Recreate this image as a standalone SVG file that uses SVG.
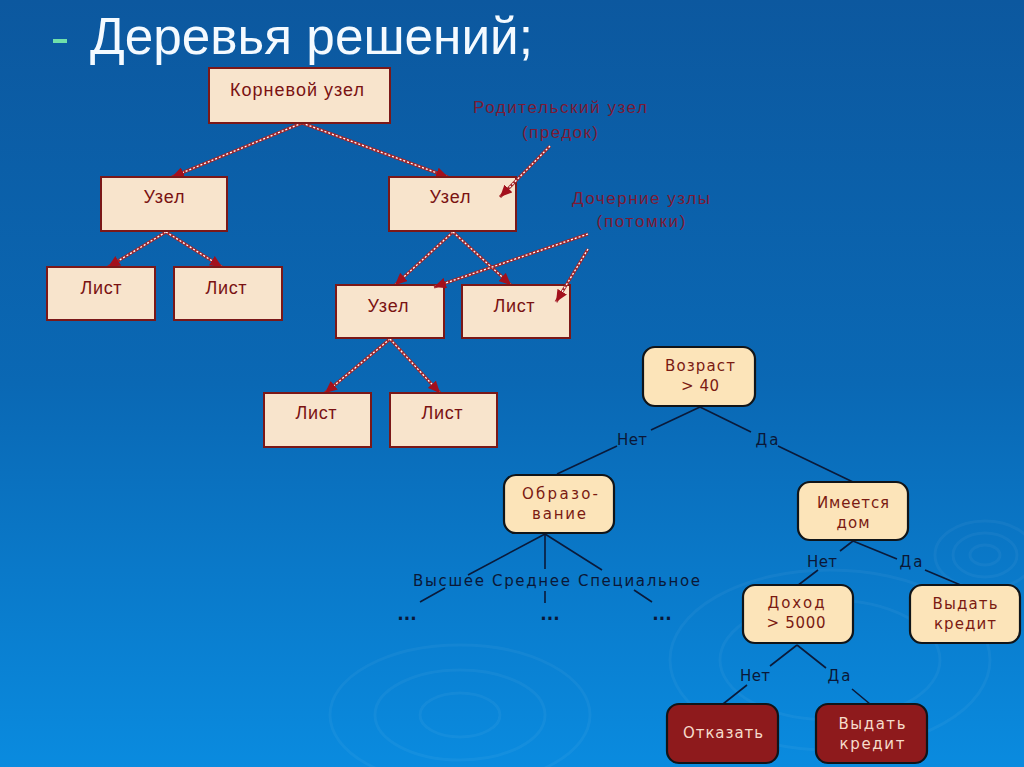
<svg xmlns="http://www.w3.org/2000/svg" width="1024" height="767" viewBox="0 0 1024 767">
<defs>
<linearGradient id="bg" x1="0" y1="0" x2="0" y2="1">
<stop offset="0" stop-color="#0c589f"/>
<stop offset="0.5" stop-color="#0a68b4"/>
<stop offset="1" stop-color="#0a8bdf"/>
</linearGradient>
<marker id="ah" markerUnits="userSpaceOnUse" markerWidth="13" markerHeight="11" refX="12" refY="5.5" orient="auto">
<path d="M0,0 L12,5.5 L0,11 z" fill="#a3101c"/>
</marker>
<style>
.tbox{fill:#f8e4cc;stroke:#7b1818;stroke-width:2}
.ttxt{font-family:"Liberation Sans",Arial,sans-serif;font-size:18px;fill:#7a1212;text-anchor:middle}
.ann{font-family:"Liberation Sans",Arial,sans-serif;font-size:17px;fill:#7c1a34;text-anchor:middle}
.dl{stroke:#a3262a;stroke-width:3;fill:none}
.dw{stroke:#ffffff;stroke-width:1.3;stroke-dasharray:2 2;fill:none;marker-end:url(#ah)}
.bbox{fill:#fce4b9;stroke:#101418;stroke-width:2.2}
.dbox{fill:#8e1a1c;stroke:#101418;stroke-width:2.2}
.btxt{font-family:"DejaVu Sans",Verdana,sans-serif;font-size:15px;fill:#7a1a12;text-anchor:middle}
.dtxt{font-family:"DejaVu Sans",Verdana,sans-serif;font-size:15px;fill:#f6dccb;text-anchor:middle}
.lbl{font-family:"DejaVu Sans",Verdana,sans-serif;font-size:15px;fill:#0a1838;text-anchor:middle}
.bl{stroke:#0a1a3a;stroke-width:1.6;fill:none}
.dots{font-family:"DejaVu Sans",Verdana,sans-serif;font-size:17px;font-weight:bold;fill:#0a1838;text-anchor:middle}
.rip{fill:none;stroke:#ffffff;stroke-opacity:0.045;stroke-width:3}
</style>
</defs>
<rect x="0" y="0" width="1024" height="767" fill="url(#bg)"/>
<g id="ripples">
<ellipse class="rip" cx="985" cy="555" rx="15" ry="10"/>
<ellipse class="rip" cx="985" cy="555" rx="32" ry="22"/>
<ellipse class="rip" cx="985" cy="555" rx="50" ry="34"/>
<ellipse class="rip" cx="460" cy="715" rx="40" ry="22"/>
<ellipse class="rip" cx="460" cy="715" rx="85" ry="45"/>
<ellipse class="rip" cx="460" cy="715" rx="130" ry="70"/>
<ellipse class="rip" cx="830" cy="660" rx="110" ry="60"/>
<ellipse class="rip" cx="830" cy="660" rx="160" ry="90"/>
</g>
<g id="title">
<line x1="53" y1="41" x2="67" y2="41" stroke="#70e0aa" stroke-width="4"/>
<text x="90" y="54" font-family="'Liberation Sans',Arial,sans-serif" font-size="52" fill="#f4faff" textLength="443" lengthAdjust="spacingAndGlyphs">Деревья решений;</text>
</g>
<g id="connectors">
<line class="dl" x1="302" y1="123" x2="172" y2="177"/><line class="dw" x1="302" y1="123" x2="172" y2="177"/>
<line class="dl" x1="302" y1="123" x2="448" y2="177"/><line class="dw" x1="302" y1="123" x2="448" y2="177"/>
<line class="dl" x1="166" y1="232" x2="108" y2="267"/><line class="dw" x1="166" y1="232" x2="108" y2="267"/>
<line class="dl" x1="166" y1="232" x2="222" y2="267"/><line class="dw" x1="166" y1="232" x2="222" y2="267"/>
<line class="dl" x1="453" y1="232" x2="395" y2="285"/><line class="dw" x1="453" y1="232" x2="395" y2="285"/>
<line class="dl" x1="453" y1="232" x2="511" y2="285"/><line class="dw" x1="453" y1="232" x2="511" y2="285"/>
<line class="dl" x1="390" y1="339" x2="325" y2="393"/><line class="dw" x1="390" y1="339" x2="325" y2="393"/>
<line class="dl" x1="390" y1="339" x2="440" y2="393"/><line class="dw" x1="390" y1="339" x2="440" y2="393"/>
<path class="bl" d="M700,407 L651,430 M617,446 L557,474"/>
<path class="bl" d="M700,407 L751,432 M778,446 L853,482"/>
<path class="bl" d="M545,534 L468,575 M445,588 L420,602"/>
<path class="bl" d="M545,534 L545,569 M545,591 L545,603"/>
<path class="bl" d="M545,534 L602,570 M634,590 L652,602"/>
<path class="bl" d="M853,541 L840,551 M818,570 L797,586"/>
<path class="bl" d="M853,541 L897,559 M925,570 L963,586"/>
<path class="bl" d="M797,645 L770,666 M747,685 L723,704"/>
<path class="bl" d="M797,645 L826,668 M852,689 L870,704"/>
<text class="lbl" x="632" y="445" textLength="30" lengthAdjust="spacing">Нет</text>
<text class="lbl" x="767" y="445" textLength="23" lengthAdjust="spacing">Да</text>
<text class="lbl" x="822" y="567" textLength="30" lengthAdjust="spacing">Нет</text>
<text class="lbl" x="911" y="567" textLength="23" lengthAdjust="spacing">Да</text>
<text class="lbl" x="755" y="681" textLength="30" lengthAdjust="spacing">Нет</text>
<text class="lbl" x="839" y="681" textLength="23" lengthAdjust="spacing">Да</text>
<text class="lbl" x="413" y="586" style="text-anchor:start" textLength="287" lengthAdjust="spacing">Высшее Среднее Специальное</text>
<text class="dots" x="407" y="620">...</text>
<text class="dots" x="550" y="620">...</text>
<text class="dots" x="662" y="620">...</text>
</g>
<g id="root"><rect class="tbox" x="209" y="68" width="181" height="55"/><text class="ttxt" x="297" y="96" textLength="134" lengthAdjust="spacing">Корневой узел</text></g>
<g id="node1"><rect class="tbox" x="101" y="177" width="126" height="54"/><text class="ttxt" x="164" y="203" textLength="41" lengthAdjust="spacing">Узел</text></g>
<g id="node2"><rect class="tbox" x="389" y="177" width="127" height="54"/><text class="ttxt" x="450" y="203" textLength="41" lengthAdjust="spacing">Узел</text></g>
<g id="leaf1"><rect class="tbox" x="47" y="267" width="108" height="53"/><text class="ttxt" x="101" y="294" textLength="41" lengthAdjust="spacing">Лист</text></g>
<g id="leaf2"><rect class="tbox" x="174" y="267" width="108" height="53"/><text class="ttxt" x="226" y="294" textLength="41" lengthAdjust="spacing">Лист</text></g>
<g id="node3"><rect class="tbox" x="336" y="285" width="108" height="53"/><text class="ttxt" x="388" y="312" textLength="41" lengthAdjust="spacing">Узел</text></g>
<g id="leaf3"><rect class="tbox" x="462" y="285" width="108" height="53"/><text class="ttxt" x="514" y="312" textLength="41" lengthAdjust="spacing">Лист</text></g>
<g id="leaf4"><rect class="tbox" x="264" y="393" width="107" height="54"/><text class="ttxt" x="316" y="419" textLength="41" lengthAdjust="spacing">Лист</text></g>
<g id="leaf5"><rect class="tbox" x="390" y="393" width="107" height="54"/><text class="ttxt" x="442" y="419" textLength="41" lengthAdjust="spacing">Лист</text></g>
<g id="age"><rect class="bbox" x="643" y="347" width="112" height="59" rx="12"/><text class="btxt" x="700" y="371" textLength="70" lengthAdjust="spacing">Возраст</text><text class="btxt" x="700" y="391" textLength="38" lengthAdjust="spacing">&gt; 40</text></g>
<g id="edu"><rect class="bbox" x="504" y="475" width="110" height="58" rx="12"/><text class="btxt" x="560" y="499" textLength="76" lengthAdjust="spacing">Образо-</text><text class="btxt" x="559" y="519" textLength="54" lengthAdjust="spacing">вание</text></g>
<g id="house"><rect class="bbox" x="798" y="482" width="110" height="58" rx="12"/><text class="btxt" x="853" y="508" textLength="72" lengthAdjust="spacing">Имеется</text><text class="btxt" x="853" y="528" textLength="33" lengthAdjust="spacing">дом</text></g>
<g id="income"><rect class="bbox" x="743" y="585" width="110" height="58" rx="12"/><text class="btxt" x="796" y="608" textLength="57" lengthAdjust="spacing">Доход</text><text class="btxt" x="796" y="628" textLength="59" lengthAdjust="spacing">&gt; 5000</text></g>
<g id="grant1"><rect class="bbox" x="910" y="585" width="110" height="58" rx="12"/><text class="btxt" x="965" y="609" textLength="65" lengthAdjust="spacing">Выдать</text><text class="btxt" x="965" y="629" textLength="62" lengthAdjust="spacing">кредит</text></g>
<g id="refuse"><rect class="dbox" x="667" y="704" width="111" height="59" rx="12"/><text class="dtxt" x="723" y="738" textLength="80" lengthAdjust="spacing">Отказать</text></g>
<g id="grant2"><rect class="dbox" x="816" y="704" width="111" height="59" rx="12"/><text class="dtxt" x="872" y="729" textLength="67" lengthAdjust="spacing">Выдать</text><text class="dtxt" x="872" y="749" textLength="65" lengthAdjust="spacing">кредит</text></g>
<g id="annotations">
<text class="ann" x="560" y="113" textLength="174" lengthAdjust="spacing">Родительский узел</text>
<text class="ann" x="560" y="138" textLength="76" lengthAdjust="spacing">(предок)</text>
<text class="ann" x="641" y="204" textLength="138" lengthAdjust="spacing">Дочерние узлы</text>
<text class="ann" x="641" y="227" textLength="89" lengthAdjust="spacing">(потомки)</text>
<line class="dl" x1="550" y1="146" x2="500" y2="197"/><line class="dw" x1="550" y1="146" x2="500" y2="197"/>
<line class="dl" x1="588" y1="234" x2="434" y2="287"/><line class="dw" x1="588" y1="234" x2="434" y2="287"/>
<line class="dl" x1="588" y1="249" x2="556" y2="302"/><line class="dw" x1="588" y1="249" x2="556" y2="302"/>
</g>
</svg>
